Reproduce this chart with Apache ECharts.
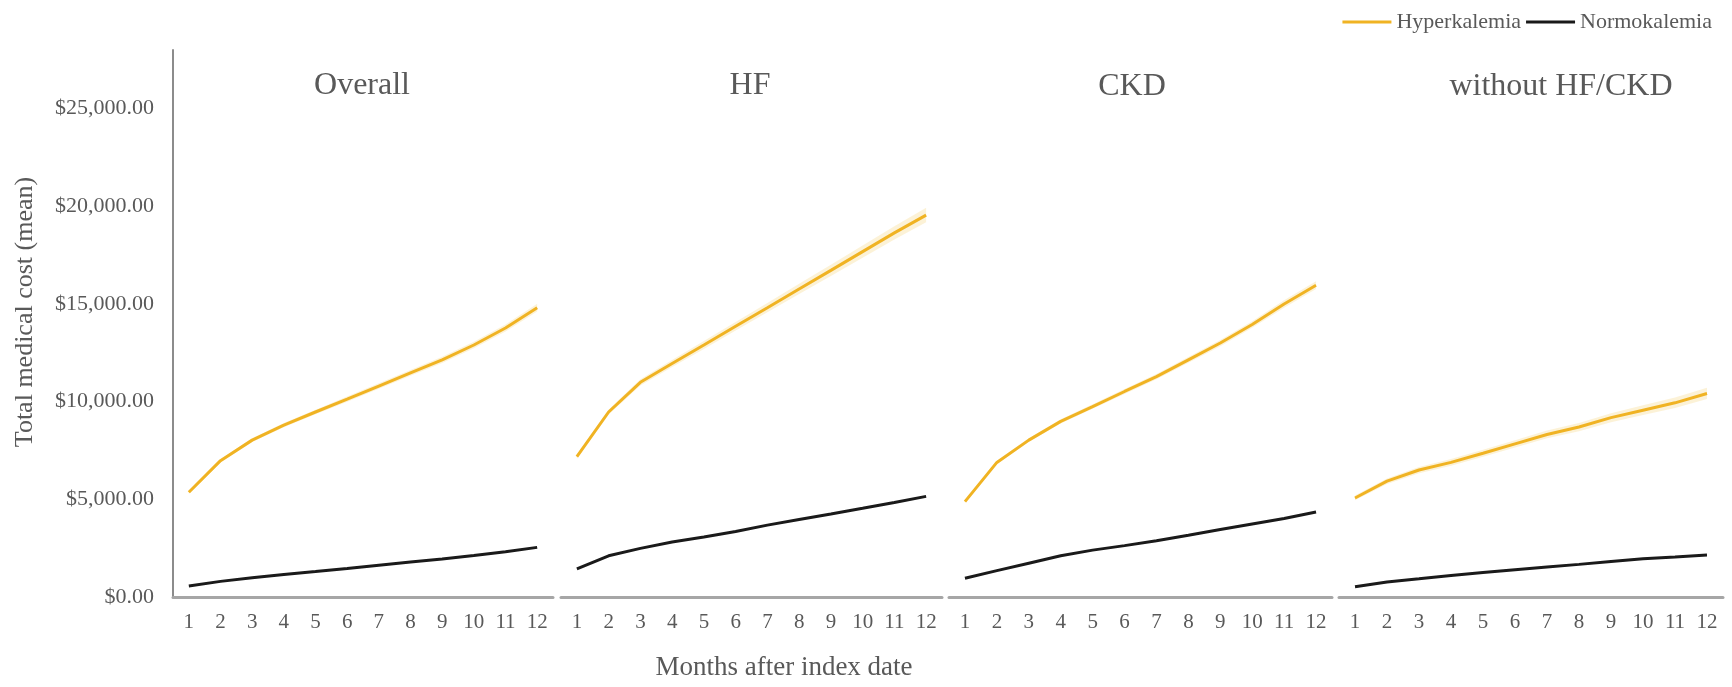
<!DOCTYPE html>
<html>
<head>
<meta charset="utf-8">
<script src="https://cdn.jsdelivr.net/npm/echarts@6/dist/echarts.min.js"></script>
<style>
html,body{margin:0;padding:0;background:#fff;}
#chart{width:1732px;height:687px;}
</style>
</head>
<body>
<div id="chart"></div>
<script>
// ---- data ----
var months = ['1','2','3','4','5','6','7','8','9','10','11','12'];
var panelTitles = ['Overall', 'HF', 'CKD', 'without HF/CKD'];
var seriesNames = ['Hyperkalemia', 'Normokalemia'];
var yTicks = [0, 5000, 10000, 15000, 20000, 25000];

var overallHyper = [5360, 6980, 8030, 8800, 9470, 10130, 10800, 11470, 12140, 12900, 13770, 14810];
var overallNormo = [560, 800, 980, 1150, 1300, 1460, 1630, 1790, 1950, 2130, 2320, 2540];
var hfHyper = [7180, 9470, 10990, 11950, 12900, 13860, 14810, 15770, 16720, 17680, 18640, 19550];
var hfNormo = [1440, 2110, 2490, 2820, 3070, 3350, 3680, 3970, 4250, 4540, 4840, 5150];
var ckdHyper = [4880, 6890, 8030, 8990, 9750, 10520, 11280, 12140, 13000, 13950, 15000, 15960];
var ckdNormo = [960, 1350, 1730, 2110, 2400, 2630, 2880, 3160, 3450, 3740, 4020, 4350];
var withoutHyper = [5070, 5930, 6500, 6890, 7360, 7840, 8320, 8700, 9180, 9560, 9940, 10420];
var withoutNormo = [520, 770, 930, 1100, 1250, 1400, 1540, 1670, 1820, 1960, 2050, 2150];

// half-width of the light confidence band around the Hyperkalemia lines
var overallHyperCI = [60, 80, 100, 110, 120, 130, 140, 150, 160, 170, 180, 200];
var hfHyperCI = [100, 130, 160, 180, 200, 220, 240, 260, 290, 310, 340, 370];
var ckdHyperCI = [60, 80, 100, 110, 120, 130, 140, 150, 160, 170, 190, 200];
var withoutHyperCI = [120, 140, 160, 170, 180, 190, 200, 210, 230, 250, 270, 290];

// ---- layout / style ----
var FONT = "'Liberation Serif', 'Times New Roman', serif";
var TEXT = '#595959';
var YELLOW = '#F0B323';
var BLACK = '#1a1a1a';
var panels = [
  {left: 173, width: 380, hyper: overallHyper, ci: overallHyperCI, normo: overallNormo, tx: 362, ty: 86},
  {left: 561, width: 381, hyper: hfHyper, ci: hfHyperCI, normo: hfNormo, tx: 750, ty: 86},
  {left: 949, width: 383, hyper: ckdHyper, ci: ckdHyperCI, normo: ckdNormo, tx: 1132, ty: 87},
  {left: 1339, width: 384, hyper: withoutHyper, ci: withoutHyperCI, normo: withoutNormo, tx: 1561, ty: 87}
];
var TOP = 50, HEIGHT = 547;

var grids = [], xAxes = [], yAxes = [], series = [], graphics = [];
panels.forEach(function (p, i) {
  grids.push({left: p.left, top: TOP, width: p.width, height: HEIGHT, containLabel: false});
  xAxes.push({
    type: 'category', gridIndex: i, data: months, boundaryGap: true,
    axisLine: {show: true, lineStyle: {color: '#a6a6a6', width: 3}},
    axisTick: {show: false},
    axisLabel: {color: TEXT, fontFamily: FONT, fontSize: 21, margin: 15, interval: 0}
  });
  yAxes.push({
    type: 'value', gridIndex: i, min: 0, max: 28000, interval: 5000,
    splitLine: {show: false},
    axisTick: {show: false},
    axisLine: {show: i === 0, lineStyle: {color: '#8c8c8c', width: 2}},
    axisLabel: {
      show: i === 0, color: TEXT, fontFamily: FONT, fontSize: 22, margin: 19,
      formatter: function (v) {
        if (yTicks.indexOf(v) < 0) return '';
        return '$' + v.toLocaleString('en-US', {minimumFractionDigits: 2, maximumFractionDigits: 2});
      }
    }
  });
  var lower = p.hyper.map(function (v, k) { return v - p.ci[k]; });
  var width = p.ci.map(function (c) { return 2 * c; });
  series.push({
    name: 'ciLower' + i, type: 'line', xAxisIndex: i, yAxisIndex: i, stack: 'ci' + i,
    data: lower, symbol: 'none', lineStyle: {opacity: 0}, silent: true, z: 1
  });
  series.push({
    name: 'ciBand' + i, type: 'line', xAxisIndex: i, yAxisIndex: i, stack: 'ci' + i,
    data: width, symbol: 'none', lineStyle: {opacity: 0}, silent: true, z: 1,
    areaStyle: {color: 'rgba(244,200,90,0.35)'}
  });
  series.push({
    name: seriesNames[0], type: 'line', xAxisIndex: i, yAxisIndex: i,
    data: p.hyper, symbol: 'none', smooth: false, z: 3,
    lineStyle: {color: YELLOW, width: 3},
    itemStyle: {color: YELLOW}
  });
  series.push({
    name: seriesNames[1], type: 'line', xAxisIndex: i, yAxisIndex: i,
    data: p.normo, symbol: 'none', smooth: false, z: 3,
    lineStyle: {color: BLACK, width: 3},
    itemStyle: {color: BLACK}
  });
  graphics.push({
    type: 'text', x: p.tx, y: p.ty,
    style: {text: panelTitles[i], fill: TEXT, font: '32px ' + FONT, textAlign: 'center', textVerticalAlign: 'middle'}
  });
});

graphics.push({
  type: 'text', x: 784, y: 668,
  style: {text: 'Months after index date', fill: TEXT, font: '27px ' + FONT, textAlign: 'center', textVerticalAlign: 'middle'}
});
graphics.push({
  type: 'text', x: 25, y: 312, rotation: Math.PI / 2,
  style: {text: 'Total medical cost (mean)', fill: TEXT, font: '26px ' + FONT, textAlign: 'center', textVerticalAlign: 'middle'}
});

var chart = echarts.init(document.getElementById('chart'), null, {renderer: 'canvas'});
chart.setOption({
  backgroundColor: '#ffffff',
  animation: false,
  legend: {
    data: seriesNames, right: 15, top: 6, itemWidth: 49, itemHeight: 3, itemGap: 5,
    icon: 'rect',
    textStyle: {color: TEXT, fontFamily: FONT, fontSize: 22}
  },
  grid: grids,
  xAxis: xAxes,
  yAxis: yAxes,
  series: series,
  graphic: graphics
});
</script>
</body>
</html>
